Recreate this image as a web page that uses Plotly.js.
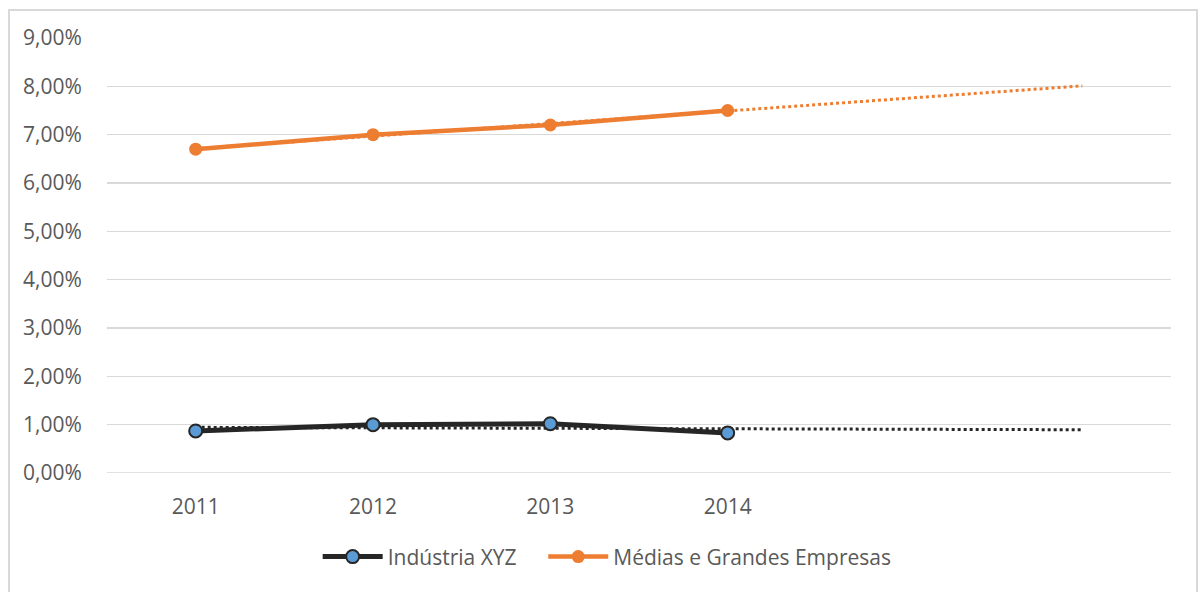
<!DOCTYPE html>
<html>
<head>
<meta charset="utf-8">
<script src="https://cdn.plot.ly/plotly-3.0.1.min.js"></script>
<style>
html,body{margin:0;padding:0;background:#fff;}
#frame{position:absolute;left:8px;top:9px;width:1190px;height:620px;border:2px solid #d9d9d9;box-sizing:border-box;}
#chart{position:absolute;left:0;top:0;width:1201px;height:592px;}
</style>
</head>
<body>
<div id="frame"></div>
<div id="chart"></div>
<script>
// Categories (last two are forecast periods with no label)
const categories = ['2011', '2012', '2013', '2014', '2015', '2016'];
const tickLabels = ['2011', '2012', '2013', '2014'];
const yTicks = [0, 1, 2, 3, 4, 5, 6, 7, 8, 9];
const yTickLabels = ['0,00%', '1,00%', '2,00%', '3,00%', '4,00%', '5,00%', '6,00%', '7,00%', '8,00%', '9,00%'];

// Series values (percent)
const industriaXYZ = [0.87, 1.00, 1.02, 0.83];
const mediasGrandes = [6.70, 7.00, 7.20, 7.50];

// Linear trendlines
const industriaTrend = [0.945, 0.935, 0.925, 0.915, 0.905, 0.895];
const mediasTrend = [6.71, 6.97, 7.23, 7.49, 7.75, 8.01];

const data = [
  {
    x: categories, y: industriaTrend, type: 'scatter', mode: 'lines',
    line: {color: '#262626', width: 3, dash: 'dot'}, showlegend: false, hoverinfo: 'skip'
  },
  {
    x: categories, y: mediasTrend, type: 'scatter', mode: 'lines',
    line: {color: '#ED7D31', width: 3, dash: 'dot'}, showlegend: false, hoverinfo: 'skip'
  },
  {
    x: categories.slice(0, industriaXYZ.length), y: industriaXYZ, name: 'Indústria XYZ',
    type: 'scatter', mode: 'lines+markers', legend: 'legend',
    line: {color: '#262626', width: 5},
    marker: {color: '#5B9BD5', size: 13, line: {color: '#262626', width: 2}}
  },
  {
    x: categories.slice(0, mediasGrandes.length), y: mediasGrandes, name: 'Médias e Grandes Empresas',
    type: 'scatter', mode: 'lines+markers', legend: 'legend2',
    line: {color: '#ED7D31', width: 4.5},
    marker: {color: '#ED7D31', size: 13}
  }
];

const legendStyle = {
  orientation: 'h', xanchor: 'left', y: -0.193, yanchor: 'middle',
  font: {size: 21, color: '#595959'}, itemwidth: 60, bgcolor: 'rgba(0,0,0,0)'
};

const layout = {
  width: 1201, height: 592,
  margin: {l: 107, r: 30, t: 38, b: 119},
  paper_bgcolor: 'rgba(0,0,0,0)',
  plot_bgcolor: 'rgba(0,0,0,0)',
  font: {family: '"Open Sans", sans-serif', size: 21, color: '#595959'},
  xaxis: {
    type: 'category', categoryorder: 'array', categoryarray: categories,
    range: [-0.5, 5.5], tickvals: tickLabels, ticktext: tickLabels,
    showgrid: false, zeroline: false, showline: false,
    ticks: 'outside', ticklen: 15, tickcolor: 'rgba(0,0,0,0)',
    tickfont: {size: 21, color: '#595959'}, fixedrange: true
  },
  yaxis: {
    range: [0, 9], tickvals: yTicks, ticktext: yTickLabels,
    showgrid: true, gridcolor: '#d9d9d9', gridwidth: 1.5,
    zeroline: false, showline: false,
    ticks: 'outside', ticklen: 20, tickcolor: 'rgba(0,0,0,0)',
    tickfont: {size: 21, color: '#595959'}, fixedrange: true
  },
  showlegend: true,
  legend: Object.assign({}, legendStyle, {x: 0.198}),
  legend2: Object.assign({}, legendStyle, {x: 0.41}),
  shapes: [
    {type: 'line', xref: 'paper', yref: 'y', x0: 0, x1: 1, y0: 0, y1: 0, line: {color: '#d9d9d9', width: 1.5}, layer: 'below'}
  ]
};

Plotly.newPlot('chart', data, layout, {displayModeBar: false, staticPlot: true});
</script>
</body>
</html>
